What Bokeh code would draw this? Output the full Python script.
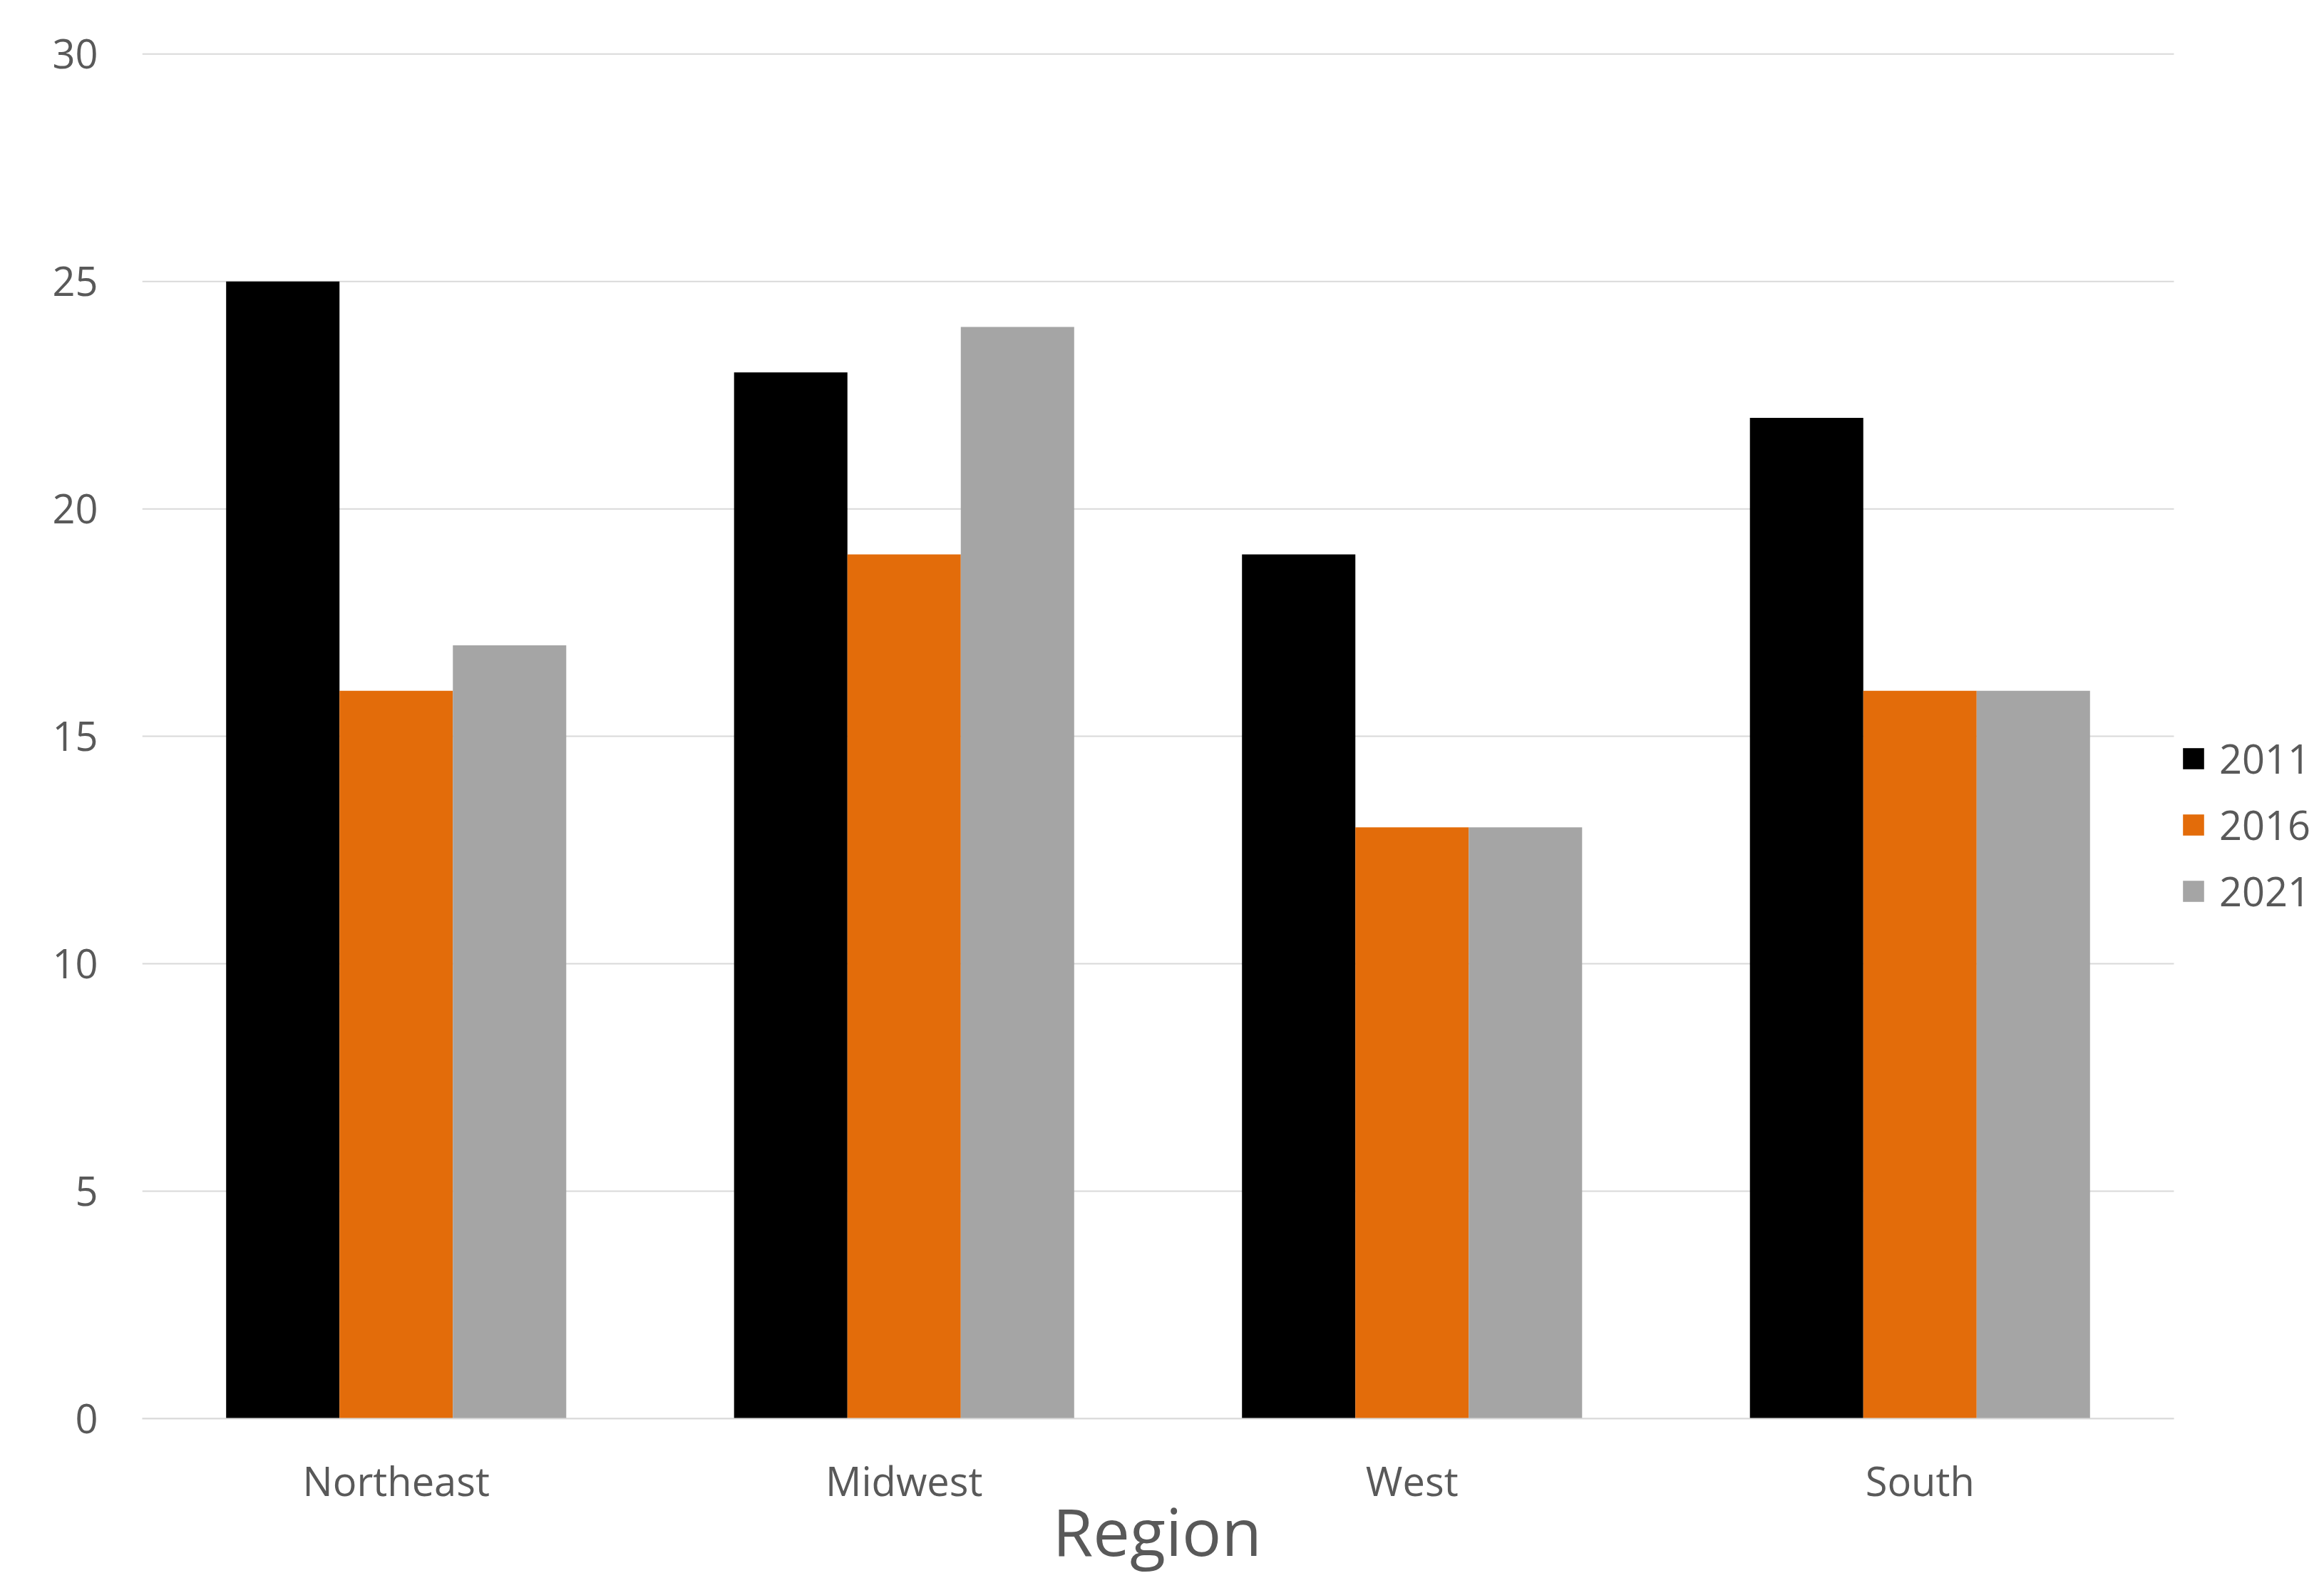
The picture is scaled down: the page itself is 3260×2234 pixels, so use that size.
from bokeh.plotting import figure
from bokeh.models import (ColumnDataSource, Range1d, FixedTicker,
                          Legend, LegendItem, Title)
from bokeh.embed import file_html
from bokeh.resources import INLINE

# ---- data ----
regions = ["Northeast", "Midwest", "West", "South"]
years = ["2011", "2016", "2021"]
v2011 = [25, 23, 19, 22]
v2016 = [16, 19, 13, 16]
v2021 = [17, 24, 13, 16]
y_ticks = [0, 5, 10, 15, 20, 25, 30]
colors = ["#000000", "#E36C0A", "#A5A5A5"]
x_title = "Region"

FONT = "Open Sans"
TXT = "#595959"

# layout constants (pixels)
W, H = 3244, 2218
LEFT, TOP, BOTTOM = 199, 72, 229
CAT_PX = 712.5                      # pixel width of one category slot
n_cat = len(regions)
x_end = (W - LEFT) / CAT_PX         # frame runs to the canvas edge (room for legend)

centers = [i + 0.5 for i in range(n_cat)]

p = figure(
    width=W, height=H,
    x_range=Range1d(0, x_end),
    y_range=Range1d(0, 30.05),
    output_backend="svg", toolbar_location=None,
    min_border_left=LEFT, min_border_right=0,
    min_border_top=TOP, min_border_bottom=BOTTOM,
)
p.title = None
p.outline_line_color = None
p.background_fill_color = "white"
p.border_fill_color = "white"
p.xgrid.grid_line_color = None
p.ygrid.grid_line_color = None

# horizontal gridlines across the category area only
p.segment(x0=[0] * len(y_ticks), x1=[n_cat] * len(y_ticks), y0=y_ticks, y1=y_ticks,
          line_color="#D9D9D9", line_width=2)

bw = 0.2232
offsets = [-bw, 0.0, bw]
series = [v2011, v2016, v2021]
renderers = []
for vals, off, c in zip(series, offsets, colors):
    src = ColumnDataSource(dict(x=[cx + off for cx in centers], top=vals))
    r = p.vbar(x="x", top="top", width=bw, source=src,
               fill_color=c, line_color=None)
    renderers.append(r)

# y axis
p.yaxis.ticker = FixedTicker(ticks=y_ticks)
p.yaxis.axis_line_color = None
p.yaxis.major_tick_line_color = None
p.yaxis.minor_tick_line_color = None
p.yaxis.major_tick_out = 0
p.yaxis.major_tick_in = 0
p.yaxis.major_label_standoff = 62
p.yaxis.major_label_text_font = FONT
p.yaxis.major_label_text_font_size = "56px"
p.yaxis.major_label_text_color = TXT

# x axis (category labels)
p.xaxis.ticker = FixedTicker(ticks=centers)
p.xaxis.major_label_overrides = {c: r for c, r in zip(centers, regions)}
p.xaxis.bounds = (0, n_cat)
p.xaxis.axis_line_color = "#D9D9D9"
p.xaxis.axis_line_width = 2
p.xaxis.major_tick_line_color = None
p.xaxis.minor_tick_line_color = None
p.xaxis.major_tick_out = 0
p.xaxis.major_tick_in = 0
p.xaxis.major_label_standoff = 48
p.xaxis.major_label_text_font = FONT
p.xaxis.major_label_text_font_size = "56px"
p.xaxis.major_label_text_color = TXT

# x-axis title, centred over the category area (not the legend area)
title_center = CAT_PX * n_cat / 2
title_half_w = 148
p.add_layout(Title(text=x_title, align="left", offset=title_center - title_half_w,
                   text_font=FONT, text_font_size="92px", text_font_style="normal",
                   text_color=TXT, standoff=-70), "below")

legend = Legend(
    items=[LegendItem(label=y, renderers=[r]) for y, r in zip(years, renderers)],
    location=(2859, 702),
    orientation="vertical",
    glyph_width=37, glyph_height=37,
    label_height=76, label_standoff=18,
    spacing=17, padding=0, margin=0,
    border_line_color=None, background_fill_alpha=0,
    label_text_font=FONT, label_text_font_size="56px",
    label_text_color=TXT,
)
p.add_layout(legend)

open("out.html", "w").write(file_html(p, INLINE))
